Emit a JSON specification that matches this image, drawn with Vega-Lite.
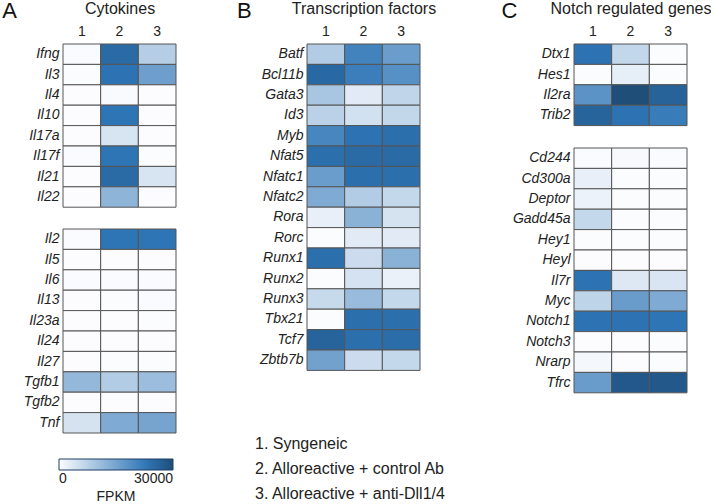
{
  "$schema": "https://vega.github.io/schema/vega-lite/v6.json",
  "padding": {"left": 2, "top": 0, "right": 0, "bottom": 0},
  "config": {
    "font": "Liberation Sans",
    "view": {"stroke": null},
    "axis": {"domain": false, "ticks": false, "labelColor": "#222", "titleColor": "#222", "titleFontWeight": "normal", "grid": false},
    "axisX": {"labelAngle": 0, "labelFontSize": 14, "labelPadding": 6, "titleFontSize": 16, "titlePadding": 8},
    "axisY": {"labelFontSize": 14, "labelFontStyle": "italic", "labelPadding": 4},
    "title": {"fontSize": 22, "fontWeight": "normal", "anchor": "start", "frame": "bounds", "baseline": "alphabetic", "offset": -23, "color": "#111"},
    "legend": {"orient": "none", "legendX": -4, "legendY": 415, "direction": "horizontal", "gradientLength": 114, "gradientThickness": 11, "titleOrient": "bottom", "titleAnchor": "middle", "titleFontSize": 14, "titleFontWeight": "normal", "labelFontSize": 14, "labelOffset": 8, "titlePadding": 4, "gradientStrokeColor": "#1f3f66", "gradientStrokeWidth": 1, "labelAlign": "center", "labelColor": "#222", "titleColor": "#222"}
  },
  "spacing": 60,
  "hconcat": [
    {
      "title": {"text": "A", "dx": -21},
      "spacing": 20,
      "vconcat": [
        {
          "width": 113, "height": {"step": 20.4},
          "data": {"values": [
            {"gene": "Ifng", "sample": "1", "fpkm": 300}, {"gene": "Ifng", "sample": "2", "fpkm": 25000}, {"gene": "Ifng", "sample": "3", "fpkm": 8000},
            {"gene": "Il3", "sample": "1", "fpkm": 200}, {"gene": "Il3", "sample": "2", "fpkm": 23500}, {"gene": "Il3", "sample": "3", "fpkm": 16000},
            {"gene": "Il4", "sample": "1", "fpkm": 100}, {"gene": "Il4", "sample": "2", "fpkm": 500}, {"gene": "Il4", "sample": "3", "fpkm": 150},
            {"gene": "Il10", "sample": "1", "fpkm": 100}, {"gene": "Il10", "sample": "2", "fpkm": 23000}, {"gene": "Il10", "sample": "3", "fpkm": 100},
            {"gene": "Il17a", "sample": "1", "fpkm": 100}, {"gene": "Il17a", "sample": "2", "fpkm": 4200}, {"gene": "Il17a", "sample": "3", "fpkm": 100},
            {"gene": "Il17f", "sample": "1", "fpkm": 300}, {"gene": "Il17f", "sample": "2", "fpkm": 23000}, {"gene": "Il17f", "sample": "3", "fpkm": 200},
            {"gene": "Il21", "sample": "1", "fpkm": 100}, {"gene": "Il21", "sample": "2", "fpkm": 25000}, {"gene": "Il21", "sample": "3", "fpkm": 4200},
            {"gene": "Il22", "sample": "1", "fpkm": 100}, {"gene": "Il22", "sample": "2", "fpkm": 12300}, {"gene": "Il22", "sample": "3", "fpkm": 100}
          ]},
          "mark": {"type": "rect", "stroke": "#555", "strokeWidth": 1},
          "encoding": {
            "x": {"field": "sample", "type": "ordinal", "sort": null, "axis": {"orient": "top", "title": "Cytokines"}},
            "y": {"field": "gene", "type": "nominal", "sort": null, "title": null},
            "color": {"field": "fpkm", "type": "quantitative", "title": "FPKM", "scale": {"domain": [0, 23000, 30000], "range": ["#fdfdff", "#2e75b6", "#1f4e79"], "interpolate": "rgb"}, "legend": {"values": [0, 30000], "format": "d"}}
          }
        },
        {
          "width": 113, "height": {"step": 20.4},
          "data": {"values": [
            {"gene": "Il2", "sample": "1", "fpkm": 300}, {"gene": "Il2", "sample": "2", "fpkm": 23000}, {"gene": "Il2", "sample": "3", "fpkm": 23000},
            {"gene": "Il5", "sample": "1", "fpkm": 100}, {"gene": "Il5", "sample": "2", "fpkm": 100}, {"gene": "Il5", "sample": "3", "fpkm": 100},
            {"gene": "Il6", "sample": "1", "fpkm": 400}, {"gene": "Il6", "sample": "2", "fpkm": 400}, {"gene": "Il6", "sample": "3", "fpkm": 300},
            {"gene": "Il13", "sample": "1", "fpkm": 100}, {"gene": "Il13", "sample": "2", "fpkm": 200}, {"gene": "Il13", "sample": "3", "fpkm": 300},
            {"gene": "Il23a", "sample": "1", "fpkm": 100}, {"gene": "Il23a", "sample": "2", "fpkm": 100}, {"gene": "Il23a", "sample": "3", "fpkm": 200},
            {"gene": "Il24", "sample": "1", "fpkm": 100}, {"gene": "Il24", "sample": "2", "fpkm": 100}, {"gene": "Il24", "sample": "3", "fpkm": 100},
            {"gene": "Il27", "sample": "1", "fpkm": 100}, {"gene": "Il27", "sample": "2", "fpkm": 200}, {"gene": "Il27", "sample": "3", "fpkm": 200},
            {"gene": "Tgfb1", "sample": "1", "fpkm": 11700}, {"gene": "Tgfb1", "sample": "2", "fpkm": 8300}, {"gene": "Tgfb1", "sample": "3", "fpkm": 10800},
            {"gene": "Tgfb2", "sample": "1", "fpkm": 100}, {"gene": "Tgfb2", "sample": "2", "fpkm": 100}, {"gene": "Tgfb2", "sample": "3", "fpkm": 100},
            {"gene": "Tnf", "sample": "1", "fpkm": 4400}, {"gene": "Tnf", "sample": "2", "fpkm": 14000}, {"gene": "Tnf", "sample": "3", "fpkm": 15000}
          ]},
          "mark": {"type": "rect", "stroke": "#555", "strokeWidth": 1},
          "encoding": {
            "x": {"field": "sample", "type": "ordinal", "sort": null, "axis": null},
            "y": {"field": "gene", "type": "nominal", "sort": null, "title": null},
            "color": {"field": "fpkm", "type": "quantitative", "title": "FPKM", "scale": {"domain": [0, 23000, 30000], "range": ["#fdfdff", "#2e75b6", "#1f4e79"], "interpolate": "rgb"}, "legend": {"values": [0, 30000], "format": "d"}}
          }
        }
      ]
    },
    {
      "spacing": 55,
      "hconcat": [
        {
          "title": {"text": "B", "dx": -18},
          "spacing": 61,
          "vconcat": [
            {
              "width": 113, "height": {"step": 20.4},
              "data": {"values": [
                {"gene": "Batf", "sample": "1", "fpkm": 8300}, {"gene": "Batf", "sample": "2", "fpkm": 20700}, {"gene": "Batf", "sample": "3", "fpkm": 16200},
                {"gene": "Bcl11b", "sample": "1", "fpkm": 25200}, {"gene": "Bcl11b", "sample": "2", "fpkm": 21400}, {"gene": "Bcl11b", "sample": "3", "fpkm": 18500},
                {"gene": "Gata3", "sample": "1", "fpkm": 9400}, {"gene": "Gata3", "sample": "2", "fpkm": 3000}, {"gene": "Gata3", "sample": "3", "fpkm": 6700},
                {"gene": "Id3", "sample": "1", "fpkm": 7400}, {"gene": "Id3", "sample": "2", "fpkm": 4800}, {"gene": "Id3", "sample": "3", "fpkm": 6500},
                {"gene": "Myb", "sample": "1", "fpkm": 20200}, {"gene": "Myb", "sample": "2", "fpkm": 23500}, {"gene": "Myb", "sample": "3", "fpkm": 24000},
                {"gene": "Nfat5", "sample": "1", "fpkm": 24000}, {"gene": "Nfat5", "sample": "2", "fpkm": 25000}, {"gene": "Nfat5", "sample": "3", "fpkm": 25000},
                {"gene": "Nfatc1", "sample": "1", "fpkm": 16200}, {"gene": "Nfatc1", "sample": "2", "fpkm": 24000}, {"gene": "Nfatc1", "sample": "3", "fpkm": 24000},
                {"gene": "Nfatc2", "sample": "1", "fpkm": 14000}, {"gene": "Nfatc2", "sample": "2", "fpkm": 8300}, {"gene": "Nfatc2", "sample": "3", "fpkm": 6300},
                {"gene": "Rora", "sample": "1", "fpkm": 2300}, {"gene": "Rora", "sample": "2", "fpkm": 12800}, {"gene": "Rora", "sample": "3", "fpkm": 4400},
                {"gene": "Rorc", "sample": "1", "fpkm": 200}, {"gene": "Rorc", "sample": "2", "fpkm": 3000}, {"gene": "Rorc", "sample": "3", "fpkm": 3000},
                {"gene": "Runx1", "sample": "1", "fpkm": 24000}, {"gene": "Runx1", "sample": "2", "fpkm": 5500}, {"gene": "Runx1", "sample": "3", "fpkm": 12800},
                {"gene": "Runx2", "sample": "1", "fpkm": 200}, {"gene": "Runx2", "sample": "2", "fpkm": 4500}, {"gene": "Runx2", "sample": "3", "fpkm": 2100},
                {"gene": "Runx3", "sample": "1", "fpkm": 6000}, {"gene": "Runx3", "sample": "2", "fpkm": 11000}, {"gene": "Runx3", "sample": "3", "fpkm": 6300},
                {"gene": "Tbx21", "sample": "1", "fpkm": 200}, {"gene": "Tbx21", "sample": "2", "fpkm": 24000}, {"gene": "Tbx21", "sample": "3", "fpkm": 24000},
                {"gene": "Tcf7", "sample": "1", "fpkm": 26000}, {"gene": "Tcf7", "sample": "2", "fpkm": 24000}, {"gene": "Tcf7", "sample": "3", "fpkm": 24500},
                {"gene": "Zbtb7b", "sample": "1", "fpkm": 15500}, {"gene": "Zbtb7b", "sample": "2", "fpkm": 5500}, {"gene": "Zbtb7b", "sample": "3", "fpkm": 6300}
              ]},
              "mark": {"type": "rect", "stroke": "#555", "strokeWidth": 1},
              "encoding": {
                "x": {"field": "sample", "type": "ordinal", "sort": null, "axis": {"orient": "top", "title": "Transcription factors"}},
                "y": {"field": "gene", "type": "nominal", "sort": null, "title": null},
                "color": {"field": "fpkm", "type": "quantitative", "title": "FPKM", "scale": {"domain": [0, 23000, 30000], "range": ["#fdfdff", "#2e75b6", "#1f4e79"], "interpolate": "rgb"}, "legend": {"values": [0, 30000], "format": "d"}}
              }
            },
            {
              "width": 2, "height": {"step": 24.7},
              "data": {"values": [
                {"label": "1. Syngeneic"},
                {"label": "2. Alloreactive + control Ab"},
                {"label": "3. Alloreactive + anti-Dll1/4"}
              ]},
              "mark": {"type": "text", "align": "left", "baseline": "middle", "fontSize": 16, "color": "#222", "dx": -53},
              "encoding": {
                "y": {"field": "label", "type": "nominal", "sort": null, "axis": null},
                "text": {"field": "label", "type": "nominal"}
              }
            }
          ]
        },
        {
          "title": {"text": "C", "dx": -11},
          "spacing": 20,
          "vconcat": [
            {
              "width": 113, "height": {"step": 20.4},
              "data": {"values": [
                {"gene": "Dtx1", "sample": "1", "fpkm": 23500}, {"gene": "Dtx1", "sample": "2", "fpkm": 6500}, {"gene": "Dtx1", "sample": "3", "fpkm": 200},
                {"gene": "Hes1", "sample": "1", "fpkm": 200}, {"gene": "Hes1", "sample": "2", "fpkm": 2600}, {"gene": "Hes1", "sample": "3", "fpkm": 200},
                {"gene": "Il2ra", "sample": "1", "fpkm": 18000}, {"gene": "Il2ra", "sample": "2", "fpkm": 30000}, {"gene": "Il2ra", "sample": "3", "fpkm": 26500},
                {"gene": "Trib2", "sample": "1", "fpkm": 26000}, {"gene": "Trib2", "sample": "2", "fpkm": 23500}, {"gene": "Trib2", "sample": "3", "fpkm": 21800}
              ]},
              "mark": {"type": "rect", "stroke": "#555", "strokeWidth": 1},
              "encoding": {
                "x": {"field": "sample", "type": "ordinal", "sort": null, "axis": {"orient": "top", "title": "Notch regulated genes"}},
                "y": {"field": "gene", "type": "nominal", "sort": null, "title": null},
                "color": {"field": "fpkm", "type": "quantitative", "title": "FPKM", "scale": {"domain": [0, 23000, 30000], "range": ["#fdfdff", "#2e75b6", "#1f4e79"], "interpolate": "rgb"}, "legend": {"values": [0, 30000], "format": "d"}}
              }
            },
            {
              "width": 113, "height": {"step": 20.4},
              "data": {"values": [
                {"gene": "Cd244", "sample": "1", "fpkm": 300}, {"gene": "Cd244", "sample": "2", "fpkm": 700}, {"gene": "Cd244", "sample": "3", "fpkm": 400},
                {"gene": "Cd300a", "sample": "1", "fpkm": 2300}, {"gene": "Cd300a", "sample": "2", "fpkm": 200}, {"gene": "Cd300a", "sample": "3", "fpkm": 200},
                {"gene": "Deptor", "sample": "1", "fpkm": 1900}, {"gene": "Deptor", "sample": "2", "fpkm": 200}, {"gene": "Deptor", "sample": "3", "fpkm": 200},
                {"gene": "Gadd45a", "sample": "1", "fpkm": 6300}, {"gene": "Gadd45a", "sample": "2", "fpkm": 200}, {"gene": "Gadd45a", "sample": "3", "fpkm": 200},
                {"gene": "Hey1", "sample": "1", "fpkm": 200}, {"gene": "Hey1", "sample": "2", "fpkm": 200}, {"gene": "Hey1", "sample": "3", "fpkm": 200},
                {"gene": "Heyl", "sample": "1", "fpkm": 100}, {"gene": "Heyl", "sample": "2", "fpkm": 100}, {"gene": "Heyl", "sample": "3", "fpkm": 100},
                {"gene": "Il7r", "sample": "1", "fpkm": 23500}, {"gene": "Il7r", "sample": "2", "fpkm": 3500}, {"gene": "Il7r", "sample": "3", "fpkm": 4000},
                {"gene": "Myc", "sample": "1", "fpkm": 7000}, {"gene": "Myc", "sample": "2", "fpkm": 16400}, {"gene": "Myc", "sample": "3", "fpkm": 14000},
                {"gene": "Notch1", "sample": "1", "fpkm": 23500}, {"gene": "Notch1", "sample": "2", "fpkm": 23500}, {"gene": "Notch1", "sample": "3", "fpkm": 23000},
                {"gene": "Notch3", "sample": "1", "fpkm": 100}, {"gene": "Notch3", "sample": "2", "fpkm": 100}, {"gene": "Notch3", "sample": "3", "fpkm": 200},
                {"gene": "Nrarp", "sample": "1", "fpkm": 1000}, {"gene": "Nrarp", "sample": "2", "fpkm": 100}, {"gene": "Nrarp", "sample": "3", "fpkm": 200},
                {"gene": "Tfrc", "sample": "1", "fpkm": 16400}, {"gene": "Tfrc", "sample": "2", "fpkm": 28000}, {"gene": "Tfrc", "sample": "3", "fpkm": 28000}
              ]},
              "mark": {"type": "rect", "stroke": "#555", "strokeWidth": 1},
              "encoding": {
                "x": {"field": "sample", "type": "ordinal", "sort": null, "axis": null},
                "y": {"field": "gene", "type": "nominal", "sort": null, "title": null},
                "color": {"field": "fpkm", "type": "quantitative", "title": "FPKM", "scale": {"domain": [0, 23000, 30000], "range": ["#fdfdff", "#2e75b6", "#1f4e79"], "interpolate": "rgb"}, "legend": {"values": [0, 30000], "format": "d"}}
              }
            }
          ]
        }
      ]
    }
  ]
}
